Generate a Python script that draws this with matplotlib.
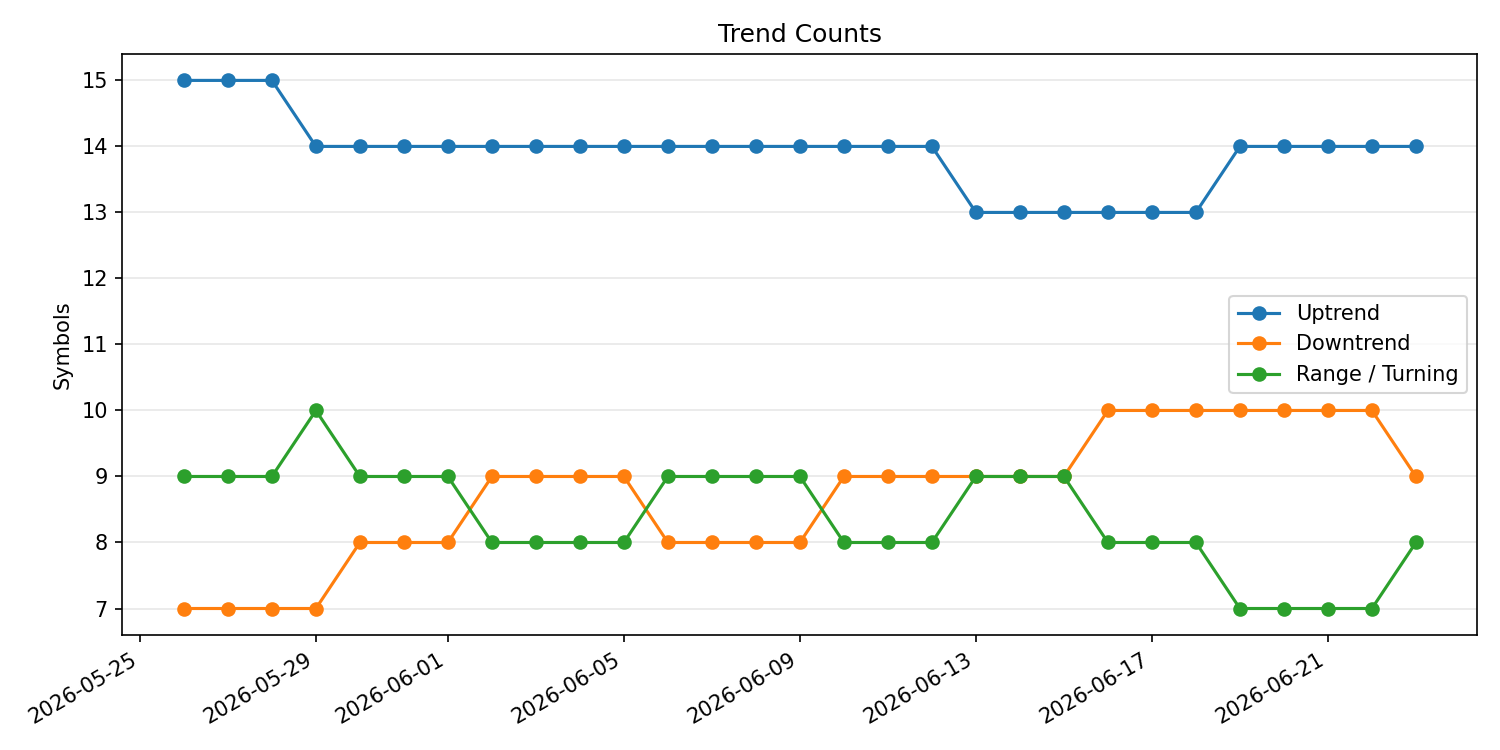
import matplotlib
matplotlib.use("Agg")
import matplotlib.pyplot as plt
import pandas as pd

dates = pd.date_range("2026-05-26", "2026-06-23", freq="D")
uptrend = [15, 15, 15, 14, 14, 14, 14, 14, 14, 14, 14, 14, 14, 14, 14,
           14, 14, 14, 13, 13, 13, 13, 13, 13, 14, 14, 14, 14, 14]
downtrend = [7, 7, 7, 7, 8, 8, 8, 9, 9, 9, 9, 8, 8, 8, 8,
             9, 9, 9, 9, 9, 9, 10, 10, 10, 10, 10, 10, 10, 9]
range_turning = [9, 9, 9, 10, 9, 9, 9, 8, 8, 8, 8, 9, 9, 9, 9,
                 8, 8, 8, 9, 9, 9, 8, 8, 8, 7, 7, 7, 7, 8]

fig, ax = plt.subplots(figsize=(10, 5), dpi=150)
ax.plot(dates, uptrend, marker="o", label="Uptrend")
ax.plot(dates, downtrend, marker="o", label="Downtrend")
ax.plot(dates, range_turning, marker="o", label="Range / Turning")

ax.set_title("Trend Counts")
ax.set_ylabel("Symbols")
ax.grid(axis="y", alpha=0.3)
ax.legend(loc="center right")
fig.autofmt_xdate()
fig.tight_layout()
fig.savefig("out.png")
